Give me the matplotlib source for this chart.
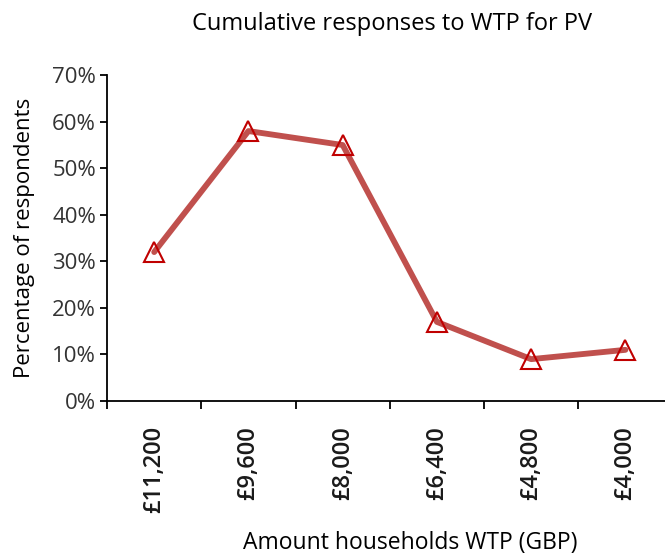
import matplotlib
matplotlib.use("Agg")
import matplotlib.pyplot as plt
from matplotlib.ticker import PercentFormatter, FixedLocator

categories = ["£11,200", "£9,600", "£8,000", "£6,400", "£4,800", "£4,000"]
percent_respondents = [32, 58, 55, 17, 9, 11]

plt.rcParams['font.family'] = ['Open Sans', 'DejaVu Sans']

fig = plt.figure(figsize=(6.65, 5.57), dpi=100)
ax = fig.add_axes([0.161, 0.280, 0.839, 0.585])

x = list(range(len(categories)))
ax.plot(x, percent_respondents, color='#C0504D', lw=4.2, solid_capstyle='round', zorder=2)
ax.plot(x, percent_respondents, linestyle='none', marker='^', ms=14, mfc='none',
        mec='#C00000', mew=1.5, zorder=3)

ax.set_ylim(0, 70)
ax.set_yticks(range(0, 71, 10))
ax.yaxis.set_major_formatter(PercentFormatter(decimals=0))
ax.set_xlim(-0.5, 5.42)
ax.set_xticks(x)
ax.set_xticklabels(categories, rotation=90, fontsize=17, fontweight='semibold')
ax.xaxis.set_minor_locator(FixedLocator([i - 0.5 for i in range(len(categories))]))
ax.tick_params(axis='x', which='major', length=0, pad=18, colors='#1a1a1a')
ax.tick_params(axis='x', which='minor', length=6, width=1.3)
ax.tick_params(axis='y', length=5, width=1.3, labelsize=16, labelcolor='#333333', pad=3)

for s in ['top', 'right']:
    ax.spines[s].set_visible(False)
for s in ['left', 'bottom']:
    ax.spines[s].set_linewidth(1.3)

ax.set_ylabel("Percentage of respondents", fontsize=16, labelpad=12)
fig.text(0.617, 0.025, "Amount households WTP (GBP)", ha='center', va='center', fontsize=16.5)
fig.text(0.589, 0.957, "Cumulative responses to WTP for PV", ha='center', va='center', fontsize=17)

fig.savefig("out.png", dpi=100)
